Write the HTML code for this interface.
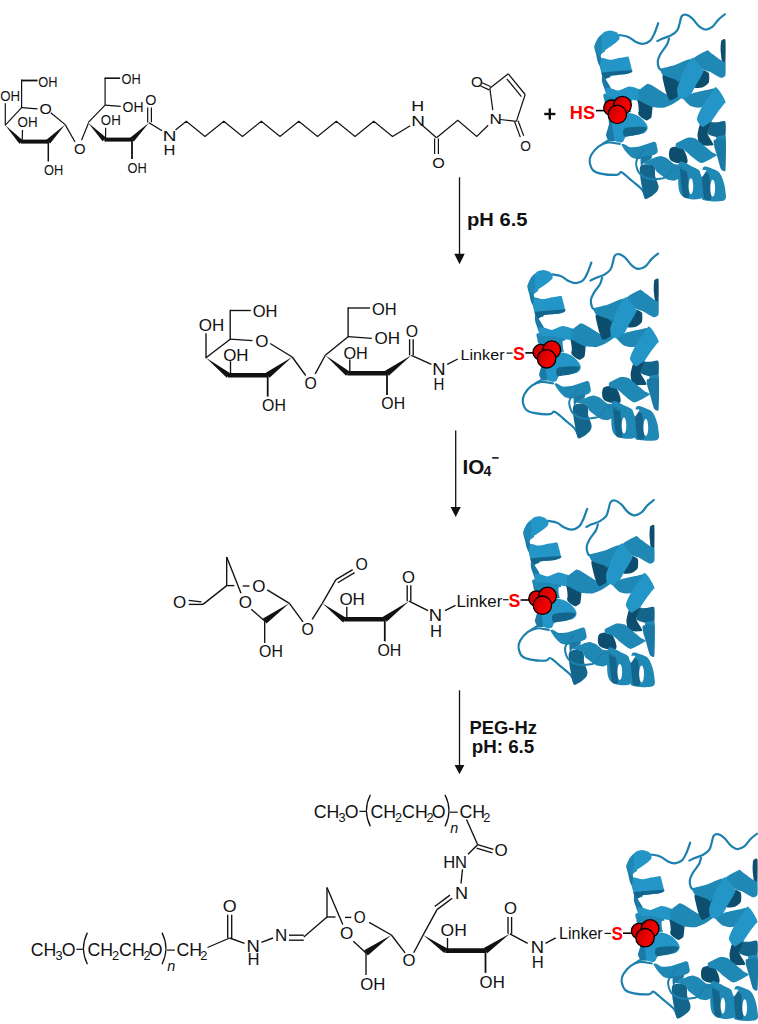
<!DOCTYPE html>
<html><head><meta charset="utf-8"><style>
html,body{margin:0;padding:0;background:#fff;}
svg{display:block;}
text{font-family:"Liberation Sans",sans-serif;}
</style></head><body>
<svg width="758" height="1024" viewBox="0 0 758 1024">
<defs>
<linearGradient id="rg" x1="0" y1="0.3" x2="1" y2="0.7"><stop offset="0" stop-color="#c00000"/><stop offset="0.6" stop-color="#f00000"/><stop offset="1" stop-color="#ff0000"/></linearGradient>
<g id="prot">
<path d="M619.0,35.0 C620.5,35.3 625.4,35.8 628.1,36.9 C630.9,38.0 633.0,40.6 635.5,41.7 C638.0,42.9 640.4,44.0 642.9,43.8 C645.4,43.6 648.4,42.4 650.3,40.6 C652.2,38.8 653.2,36.1 654.5,33.2 C655.8,30.3 657.6,24.9 658.2,23.2" fill="none" stroke="#1d80ad" stroke-width="2.2" stroke-linecap="round" stroke-linejoin="round"/>
<path d="M657.4,41.1 C658.3,40.7 660.4,39.5 662.7,38.5 C665.0,37.5 668.7,36.7 671.1,35.3 C673.5,33.9 675.9,32.3 677.4,30.1 C678.9,27.9 679.3,24.3 680.0,22.0 C680.7,19.7 680.7,17.5 681.7,16.3 C682.7,15.1 684.1,14.3 685.9,14.7 C687.6,15.0 690.1,16.5 692.2,18.4 C694.3,20.2 696.4,23.9 698.5,25.8 C700.6,27.7 702.6,29.3 704.9,29.5 C707.2,29.7 710.0,28.6 712.3,26.9 C714.6,25.2 716.5,21.6 718.6,19.5 C720.7,17.4 723.9,15.1 724.9,14.2" fill="none" stroke="#1d80ad" stroke-width="2.2" stroke-linecap="round" stroke-linejoin="round"/>
<path d="M669.0,38.5 C668.6,39.5 668.3,42.3 666.9,44.8 C665.5,47.3 662.1,51.0 660.6,53.7 C659.1,56.4 658.1,58.4 657.8,60.8 C657.5,63.2 658.3,66.4 659.0,68.0 C659.7,69.6 661.7,69.9 662.2,70.3" fill="none" stroke="#1d80ad" stroke-width="2.2" stroke-linecap="round" stroke-linejoin="round"/>
<path d="M619.8,144.0 C617.8,143.8 611.4,142.1 607.9,142.5 C604.4,142.9 601.5,144.2 598.7,146.3 C595.9,148.4 592.8,152.2 591.3,154.8 C589.8,157.5 589.4,159.6 589.7,162.2 C590.1,164.8 591.4,168.7 593.4,170.6 C595.4,172.5 598.0,173.1 601.9,173.8 C605.8,174.5 613.5,175.1 616.7,174.8 C619.9,174.5 619.5,172.2 620.9,172.2 C622.3,172.2 623.2,173.3 625.1,174.8 C627.0,176.3 629.7,178.7 632.5,181.2 C635.3,183.7 639.8,186.8 642.0,189.6 C644.2,192.4 645.2,196.6 645.8,198.0" fill="none" stroke="#1d80ad" stroke-width="2.2" stroke-linecap="round" stroke-linejoin="round"/>
<path d="M613.0,136.5 C612.3,137.1 610.4,138.9 608.7,140.1 C607.0,141.3 604.0,142.9 603.0,143.5" fill="none" stroke="#1d80ad" stroke-width="2.0" stroke-linecap="round" stroke-linejoin="round"/>
<path d="M594.7,45.6 C593.2,46.4 595.8,52.3 596.3,55.1 C596.8,57.9 597.2,60.1 597.9,62.2 C598.6,64.3 599.6,65.7 600.3,67.7 C601.0,69.7 601.6,72.0 601.9,74.1 C602.2,76.2 601.7,78.6 601.9,80.4 C602.1,82.2 602.4,82.9 603.1,85.0 C603.8,87.1 605.2,90.9 606.1,93.0 C607.0,95.1 608.8,96.2 608.5,97.7 C608.2,99.2 604.2,99.3 604.5,101.7 C604.8,104.1 608.8,108.5 610.0,112.0 C611.2,115.5 610.9,119.7 611.9,122.7 C612.9,125.7 615.7,127.4 615.8,129.8 C615.9,132.2 613.9,135.2 612.7,136.9 C611.5,138.6 608.3,139.4 608.7,140.1 C609.1,140.8 612.5,141.4 615.0,141.0 C617.5,140.6 621.9,141.2 623.7,137.7 C625.5,134.2 627.0,126.3 626.0,120.0 C625.0,113.7 620.5,103.8 618.0,100.0 C615.5,96.2 612.0,98.9 610.8,96.9 C609.6,94.9 611.6,91.2 610.8,88.2 C610.0,85.2 605.8,80.9 605.8,78.8 C605.8,76.7 611.3,79.1 610.6,75.7 C609.9,72.3 603.1,61.8 601.5,58.2 C599.9,54.6 600.5,55.6 601.1,54.3 C601.7,53.0 606.1,51.8 605.0,50.3 C603.9,48.8 596.2,44.8 594.7,45.6Z" fill="#1a7aa5"/>
<path d="M594.7,45.6 C594.8,44.5 597.1,39.6 597.9,38.5 C598.7,37.4 603.1,32.8 604.2,32.1 C605.3,31.4 609.6,30.5 610.6,30.5 C611.6,30.5 615.4,31.7 616.1,32.1 C616.8,32.5 619.0,34.7 619.3,35.3 C619.6,35.9 619.6,38.6 619.3,39.2 C619.0,39.8 616.8,41.8 616.1,42.4 C615.4,43.0 611.5,45.7 610.6,46.4 C609.7,47.1 605.8,49.6 605.0,50.3 C604.2,51.0 601.5,53.8 601.1,54.3 C600.7,54.8 600.6,56.9 600.3,56.7 C600.0,56.5 597.5,52.9 597.0,52.0 C596.5,51.1 594.6,46.7 594.7,45.6Z" fill="#2395c6"/>
<path d="M594.7,45.6 C594.8,44.5 597.3,39.4 597.9,38.5 C598.5,37.6 601.2,34.4 601.5,35.0 C601.8,35.6 602.1,44.2 602.0,46.0 C601.9,47.8 600.7,56.2 600.3,56.7 C599.9,57.2 597.5,52.9 597.0,52.0 C596.5,51.1 594.6,46.7 594.7,45.6Z" fill="#1f88b5"/>
<path d="M601.5,58.2 C602.3,57.7 608.4,59.8 609.8,59.8 C611.1,59.8 616.2,58.5 617.7,58.2 C619.2,57.9 626.3,56.8 627.2,56.7 C628.1,56.6 628.4,56.4 628.8,57.5 C629.2,58.6 631.8,68.8 632.0,70.1 C632.2,71.3 631.7,72.2 631.2,72.5 C630.7,72.8 627.5,73.9 626.4,74.1 C625.3,74.3 619.0,74.8 617.7,74.9 C616.4,75.0 611.6,75.4 610.6,75.7 C609.6,76.0 606.5,78.9 605.8,78.8 C605.1,78.7 602.5,76.1 602.0,75.0 C601.5,73.9 600.0,67.4 600.0,66.0 C600.0,64.6 600.7,58.7 601.5,58.2Z" fill="#2395c6"/>
<path d="M603.0,72.5 C605.4,72.0 629.1,70.2 631.5,70.2 C633.9,70.2 631.6,72.2 631.2,72.5 C630.8,72.8 627.5,73.9 626.4,74.1 C625.3,74.3 619.0,74.8 617.7,74.9 C616.4,75.0 611.6,75.4 610.6,75.7 C609.6,76.0 606.5,78.8 605.8,78.8 C605.1,78.8 602.7,76.5 602.5,76.0 C602.3,75.5 600.6,73.0 603.0,72.5Z" fill="#13658c"/>
<path d="M637.7,97.0 C638.5,96.7 645.3,100.4 646.5,101.0 C647.7,101.6 652.1,102.7 652.5,104.0 C652.9,105.3 651.9,115.8 651.4,117.2 C650.9,118.6 647.2,120.6 646.1,120.4 C645.0,120.2 639.4,116.4 638.7,115.1 C638.0,113.8 637.6,106.1 637.5,104.6 C637.4,103.1 637.0,97.3 637.7,97.0Z" fill="#0d4d6d"/>
<path d="M637.7,89.0 C637.9,88.1 639.1,89.7 640.0,89.3 C640.9,88.9 646.6,83.9 647.9,83.8 C649.2,83.7 654.3,86.8 655.8,87.7 C657.3,88.6 664.6,93.4 666.1,94.1 C667.6,94.8 672.2,96.3 673.2,96.5 C674.2,96.7 677.3,96.4 678.0,96.5 C678.7,96.6 681.6,97.6 681.2,98.2 C680.8,98.8 674.7,102.9 673.2,103.7 C671.7,104.5 665.5,107.4 663.7,107.7 C661.9,108.0 653.9,107.5 651.9,106.9 C649.9,106.3 641.2,101.6 640.0,101.0 C638.8,100.4 637.9,101.1 637.7,100.1 C637.5,99.1 637.5,89.9 637.7,89.0Z" fill="#1f88b5"/>
<path d="M604.0,94.0 C606.1,93.3 628.8,94.5 631.0,96.0 C633.2,97.5 632.6,110.7 631.0,112.0 C629.4,113.3 614.1,112.7 612.0,112.0 C609.9,111.3 606.7,105.5 606.0,104.0 C605.3,102.5 601.9,94.7 604.0,94.0Z" fill="#1f88b5"/>
<path d="M606.0,88.0 C606.4,87.4 609.7,88.0 610.8,88.2 C611.9,88.4 617.2,90.7 618.7,90.6 C620.2,90.5 627.4,86.7 629.0,86.6 C630.6,86.5 637.0,87.9 637.7,89.0 C638.5,90.1 638.6,99.2 638.0,100.1 C637.4,101.0 632.0,99.6 630.6,99.3 C629.2,99.0 622.8,97.1 621.1,96.9 C619.5,96.7 612.1,97.1 610.8,96.9 C609.5,96.7 606.4,95.7 606.0,95.0 C605.6,94.3 605.6,88.6 606.0,88.0Z" fill="#2395c6"/>
<path d="M611.7,123.2 C612.6,120.9 614.2,118.6 616.0,117.0 C617.8,115.4 619.5,114.1 622.2,113.5 C624.9,112.9 628.8,112.8 632.0,113.5 C635.2,114.2 638.6,115.8 641.2,118.0 C643.8,120.2 646.9,124.1 647.5,126.5 C648.1,128.9 646.9,131.1 645.0,132.5 C643.1,133.9 639.1,134.3 636.0,135.0 C632.9,135.7 628.7,135.3 626.4,136.5 C624.1,137.7 624.3,141.6 622.2,142.2 C620.1,142.8 615.8,142.0 613.8,140.1 C611.8,138.2 610.9,133.8 610.5,131.0 C610.1,128.2 610.8,125.5 611.7,123.2Z" fill="#2395c6"/>
<path d="M624.0,129.0 C625.7,127.5 630.2,127.2 634.0,127.0 C637.8,126.8 645.3,126.4 646.5,127.5 C647.7,128.6 643.9,132.1 641.2,133.5 C638.5,134.9 633.0,135.6 630.1,136.0 C627.2,136.4 625.0,137.2 624.0,136.0 C623.0,134.8 622.3,130.5 624.0,129.0Z" fill="#13658c"/>
<path d="M608.0,112.0 C608.3,111.0 612.7,111.0 613.0,112.0 C613.3,113.0 611.9,121.8 612.0,124.0 C612.1,126.2 614.2,137.6 614.0,139.0 C613.8,140.4 609.7,141.3 609.0,141.0 C608.3,140.7 606.0,136.4 606.0,135.0 C606.0,133.6 608.8,125.9 609.0,124.0 C609.2,122.1 607.7,113.0 608.0,112.0Z" fill="#1a7aa5"/>
<path d="M621.4,144.8 C621.2,144.1 623.0,143.8 623.7,144.0 C624.4,144.2 628.8,147.0 630.1,147.2 C631.4,147.4 637.6,146.9 639.6,146.4 C641.6,145.9 652.4,142.0 653.8,141.7 C655.2,141.4 655.9,142.4 656.2,143.2 C656.5,144.0 657.9,150.3 657.8,151.2 C657.7,152.1 656.5,153.8 655.4,154.3 C654.3,154.8 646.6,157.1 645.1,157.5 C643.6,157.9 639.1,159.1 638.0,159.1 C636.9,159.1 632.7,158.1 631.7,157.5 C630.7,156.9 627.0,153.1 626.1,152.0 C625.2,150.9 621.6,145.5 621.4,144.8Z" fill="#1f88b5"/>
<path d="M641.0,157.0 C641.9,156.1 651.2,155.3 652.0,155.5 C652.8,155.7 651.3,158.6 650.6,159.2 C649.9,159.8 644.3,162.6 643.5,163.2 C642.7,163.8 641.2,166.5 641.0,166.0 C640.8,165.5 640.1,157.9 641.0,157.0Z" fill="#1a7aa5"/>
<path d="M641.1,165.6 C643.3,163.8 651.3,163.8 653.7,165.6 C656.1,167.4 654.5,173.3 655.3,176.7 C656.1,180.1 658.4,183.6 658.5,186.2 C658.6,188.8 658.2,190.4 656.1,192.5 C654.0,194.6 648.0,199.2 645.8,198.8 C643.6,198.4 643.6,193.8 642.7,190.1 C641.8,186.4 640.6,180.8 640.3,176.7 C640.0,172.6 638.9,167.4 641.1,165.6Z" fill="#13658c"/>
<path d="M643.5,163.2 C643.2,162.7 649.2,159.8 650.6,159.2 C652.0,158.6 658.7,156.2 660.1,156.1 C661.5,156.0 666.0,157.8 667.2,158.5 C668.4,159.2 672.8,163.5 674.3,164.0 C675.8,164.5 684.1,164.6 685.4,164.8 C686.7,165.0 689.6,165.4 690.0,166.0 C690.4,166.6 690.7,171.0 690.0,172.0 C689.3,173.0 682.8,176.8 681.5,177.5 C680.2,178.2 675.4,180.4 674.3,180.6 C673.2,180.8 668.9,180.1 668.0,179.8 C667.1,179.5 664.2,177.4 663.2,176.7 C662.2,176.0 656.9,172.0 656.1,171.1 C655.3,170.2 654.8,166.3 653.7,165.6 C652.7,164.9 643.8,163.7 643.5,163.2Z" fill="#1f88b5"/>
<path d="M663.0,75.1 C664.4,74.6 679.7,75.8 681.0,77.0 C682.3,78.2 679.2,87.7 679.0,89.3 C678.8,90.9 678.8,95.6 678.0,96.5 C677.2,97.4 671.0,100.7 670.0,100.4 C669.0,100.1 666.6,94.0 666.1,92.5 C665.6,91.0 664.0,84.5 663.7,83.0 C663.4,81.5 661.6,75.6 663.0,75.1Z" fill="#0d4d6d"/>
<path d="M659.5,68.4 C659.3,67.9 659.3,69.0 660.6,68.7 C661.9,68.4 673.1,65.6 675.6,64.8 C678.1,64.0 690.0,58.4 690.7,59.2 C691.4,60.1 685.1,73.1 684.0,75.0 C682.9,76.9 678.7,81.6 678.0,82.0 C677.3,82.4 676.9,80.4 675.6,79.8 C674.4,79.2 664.3,76.0 663.0,75.1 C661.7,74.1 659.7,68.9 659.5,68.4Z" fill="#1f88b5"/>
<path d="M721.2,40.9 C721.6,40.1 725.0,37.9 725.4,39.8 C725.8,41.7 725.7,61.8 725.4,63.5 C725.1,65.2 722.2,61.6 721.8,60.5 C721.4,59.4 720.6,51.4 720.6,49.8 C720.6,48.2 720.8,41.7 721.2,40.9Z" fill="#0d4d6d"/>
<path d="M693.9,58.2 C694.2,56.6 705.7,50.9 707.0,50.4 C708.3,49.9 708.9,51.4 710.0,52.2 C711.1,53.0 719.3,59.1 720.6,60.0 C721.9,60.9 725.0,61.6 725.4,62.9 C725.8,64.2 725.8,74.2 725.4,75.4 C725.0,76.6 721.9,78.1 720.6,77.8 C719.3,77.5 711.5,72.5 710.0,71.8 C708.5,71.1 704.1,70.5 702.8,69.4 C701.5,68.3 693.5,59.8 693.9,58.2Z" fill="#1f88b5"/>
<path d="M700.0,70.0 C701.2,68.8 708.1,72.0 708.8,73.0 C709.5,74.0 709.3,81.3 708.8,82.5 C708.3,83.7 704.0,86.9 702.8,87.3 C701.6,87.7 694.2,88.7 694.0,87.3 C693.8,85.9 698.8,71.2 700.0,70.0Z" fill="#0d4d6d"/>
<path d="M690.7,59.2 C691.6,58.1 692.8,57.2 693.9,58.2 C695.0,59.2 703.2,68.9 703.4,71.2 C703.5,73.5 697.0,83.1 695.7,85.5 C694.4,87.9 688.7,99.3 687.5,100.4 C686.3,101.5 682.0,98.5 681.2,98.2 C680.4,97.9 678.3,97.3 678.0,96.5 C677.7,95.7 676.8,90.5 677.2,88.5 C677.6,86.5 681.9,74.4 683.0,72.0 C684.1,69.6 689.8,60.4 690.7,59.2Z" fill="#2395c6"/>
<path d="M684.3,99.7 C684.5,98.6 690.3,94.2 692.7,93.3 C695.1,92.4 711.6,89.1 713.5,88.6 C715.4,88.1 714.9,86.2 715.9,87.4 C716.9,88.6 726.7,101.1 725.4,102.8 C724.1,104.5 702.7,107.3 699.8,107.6 C696.9,107.9 692.0,106.8 690.7,106.1 C689.4,105.4 684.1,100.8 684.3,99.7Z" fill="#1f88b5"/>
<path d="M715.9,87.4 C717.9,87.0 725.8,99.9 725.4,102.8 C725.0,105.7 713.6,119.7 711.7,121.8 C709.8,123.9 704.0,128.0 702.8,127.8 C701.6,127.6 697.0,121.1 696.9,119.4 C696.8,117.7 700.0,110.3 701.6,107.6 C703.2,104.9 713.9,87.8 715.9,87.4Z" fill="#2395c6"/>
<path d="M699.8,125.0 C700.3,124.3 702.0,127.3 703.0,127.0 C704.0,126.7 711.3,121.2 711.7,121.8 C712.1,122.4 707.5,131.8 707.6,133.7 C707.8,135.6 714.1,144.1 713.5,145.0 C712.9,145.9 701.1,145.8 699.8,145.0 C698.5,144.2 697.5,136.7 697.5,135.0 C697.5,133.3 699.3,125.7 699.8,125.0Z" fill="#0d4d6d"/>
<path d="M711.7,121.8 C712.7,120.7 718.3,120.0 719.4,120.0 C720.5,120.0 724.9,120.5 725.4,121.8 C725.9,123.1 726.0,134.2 725.4,135.5 C724.8,136.8 719.8,137.5 718.3,137.3 C716.8,137.2 708.1,135.0 707.6,133.7 C707.1,132.4 710.7,122.9 711.7,121.8Z" fill="#13658c"/>
<path d="M716.5,137.0 C717.2,136.1 724.7,134.8 725.4,135.5 C726.1,136.2 726.1,145.1 725.4,146.0 C724.7,146.9 717.2,146.8 716.5,146.0 C715.8,145.2 715.8,137.9 716.5,137.0Z" fill="#1f88b5"/>
<path d="M669.6,149.7 C670.4,147.3 673.5,146.6 675.9,146.6 C678.3,146.6 681.9,146.9 683.8,149.7 C685.6,152.5 689.1,161.3 687.0,163.2 C684.9,165.0 674.1,163.1 671.2,160.8 C668.3,158.6 668.8,152.1 669.6,149.7Z" fill="#0d4d6d"/>
<path d="M676.0,143.5 C676.9,142.6 685.9,138.1 687.5,137.7 C689.1,137.3 694.4,138.1 695.4,138.5 C696.4,138.9 698.4,140.9 699.8,142.0 C701.2,143.1 710.3,150.8 711.7,151.9 C713.1,153.0 717.7,154.3 716.9,155.2 C716.1,156.1 703.8,162.9 701.8,163.1 C699.8,163.3 694.7,158.9 693.2,157.8 C691.7,156.7 685.4,150.7 684.0,149.9 C682.6,149.1 677.7,148.5 677.0,148.0 C676.3,147.5 675.1,144.4 676.0,143.5Z" fill="#1f88b5"/>
<path d="M714.0,140.0 C714.9,139.4 724.5,137.5 725.5,140.0 C726.5,142.5 725.9,167.9 725.5,170.3 C725.1,172.7 721.6,170.3 720.9,169.0 C720.2,167.7 717.4,157.1 716.9,155.2 C716.4,153.3 714.5,147.9 714.3,146.6 C714.1,145.3 713.1,140.6 714.0,140.0Z" fill="#1a7aa5"/>
<path d="M680.0,161.8 C682.3,160.4 688.6,164.9 691.9,166.4 C695.2,167.9 697.7,168.6 699.8,171.0 C701.9,173.4 703.5,177.5 704.4,180.9 C705.3,184.3 705.4,188.7 705.0,191.5 C704.6,194.3 703.8,196.7 701.8,198.0 C699.8,199.3 696.3,199.6 693.2,199.4 C690.1,199.2 685.7,198.3 683.3,196.7 C680.9,195.1 679.8,193.6 679.0,190.0 C678.2,186.4 678.1,179.7 678.3,175.0 C678.5,170.3 677.7,163.2 680.0,161.8Z" fill="#1f88b5"/>
<path d="M703.1,167.7 C704.8,165.0 710.2,168.1 713.0,169.0 C715.8,169.9 717.8,170.7 719.6,173.0 C721.4,175.3 722.9,179.7 723.9,182.9 C724.9,186.1 725.2,189.3 725.5,192.0 C725.8,194.7 726.5,197.4 725.5,199.0 C724.5,200.6 722.8,201.0 719.6,201.3 C716.4,201.6 709.4,201.2 706.4,200.7 C703.4,200.1 702.4,200.6 701.8,198.0 C701.2,195.4 702.8,190.1 703.0,185.0 C703.2,179.9 701.4,170.4 703.1,167.7Z" fill="#1f88b5"/>
<path d="M680.0,168.0 C680.3,166.0 686.2,169.6 687.0,172.0 C687.8,174.4 689.3,195.0 689.0,197.0 C688.7,199.0 683.8,198.4 683.0,196.0 C682.2,193.6 679.7,170.0 680.0,168.0Z" fill="#13658c"/>
<path d="M702.0,172.0 C702.4,170.1 708.2,172.8 709.0,175.0 C709.8,177.2 711.4,197.1 711.0,199.0 C710.6,200.9 704.8,200.2 704.0,198.0 C703.2,195.8 701.6,173.9 702.0,172.0Z" fill="#13658c"/>
<ellipse cx="690.9" cy="186.2" rx="2.3" ry="8" fill="#fff"/>
<ellipse cx="712.7" cy="188.2" rx="2.4" ry="8.5" fill="#fff"/>
<path d="M699.8,170.5 C700.2,169.9 706.2,169.8 706.4,170.3 C706.6,170.8 702.5,177.0 702.0,177.0 C701.5,177.0 699.4,171.1 699.8,170.5Z" fill="#ffffff"/>
<path d="M711.7,121.8 C711.7,120.4 724.2,103.0 725.4,102.8 C726.5,102.6 726.6,118.4 725.5,120.0 C724.4,121.6 711.7,123.2 711.7,121.8Z" fill="#ffffff"/>
<path d="M629.8,101.7 C630.4,100.9 636.8,100.6 637.5,101.5 C638.2,102.4 639.1,111.2 638.5,112.0 C637.9,112.8 631.2,111.9 630.5,111.0 C629.8,110.1 629.2,102.5 629.8,101.7Z" fill="#ffffff"/>
<path d="M644.2,149.7 C643.0,151.3 638.4,156.5 637.1,159.2 C635.8,161.8 635.8,163.1 636.3,165.6 C636.8,168.1 638.0,172.1 640.3,174.3 C642.5,176.5 646.0,178.3 649.8,179.0 C653.6,179.7 660.2,178.8 663.2,178.2 C666.2,177.5 666.4,176.7 668.0,175.1 C669.6,173.5 670.9,170.0 672.7,168.7 C674.6,167.4 677.0,166.9 679.1,167.2 C681.2,167.5 684.4,169.8 685.4,170.3" fill="none" stroke="#1d80ad" stroke-width="2.0" stroke-linecap="round" stroke-linejoin="round"/>
</g>
</defs>
<rect width="758" height="1024" fill="#fff"/>
<use href="#prot" x="0" y="0"/><use href="#prot" x="-66.9" y="239.4"/><use href="#prot" x="-71.1" y="485.8"/><use href="#prot" x="32.0" y="819.5"/>
<line x1="21.6" y1="80.5" x2="37.5" y2="80.5" stroke="#111" stroke-width="1.8"/>
<line x1="21.6" y1="108" x2="21.6" y2="79.6" stroke="#111" stroke-width="1.2"/>
<line x1="21.6" y1="107.6" x2="37.5" y2="108.8" stroke="#111" stroke-width="1.2"/>
<line x1="50.8" y1="112.7" x2="65.2" y2="124.6" stroke="#111" stroke-width="1.2"/>
<line x1="21.6" y1="107.6" x2="5.3" y2="125.2" stroke="#111" stroke-width="1.2"/>
<line x1="5.3" y1="125.6" x2="5.3" y2="103.3" stroke="#111" stroke-width="1.2"/>
<polygon points="5.30,125.20 19.38,143.81 23.02,140.39" fill="#111"/>
<line x1="22.2" y1="141" x2="22.5" y2="130" stroke="#111" stroke-width="1.2"/>
<polygon points="20.70,143.60 48.30,143.60 48.30,139.60 20.70,139.60" fill="#111"/>
<polygon points="65.20,124.60 46.46,139.77 50.14,143.43" fill="#111"/>
<line x1="48.3" y1="141.6" x2="48.3" y2="161.5" stroke="#111" stroke-width="1.5"/>
<line x1="65.2" y1="124.6" x2="75" y2="142" stroke="#111" stroke-width="1.2"/>
<line x1="81.5" y1="140.2" x2="88.4" y2="123.3" stroke="#111" stroke-width="1.2"/>
<line x1="88.1" y1="122.7" x2="105.1" y2="105.1" stroke="#111" stroke-width="1.2"/>
<line x1="105.1" y1="105.1" x2="105.1" y2="78.2" stroke="#111" stroke-width="1.2"/>
<line x1="104.5" y1="78.2" x2="120.1" y2="78.2" stroke="#111" stroke-width="1.6"/>
<line x1="105.1" y1="105.1" x2="120.7" y2="106.4" stroke="#111" stroke-width="1.2"/>
<polygon points="88.10,122.70 102.60,141.34 106.20,137.86" fill="#111"/>
<line x1="105.5" y1="139" x2="105.7" y2="127.7" stroke="#111" stroke-width="1.2"/>
<polygon points="104.40,141.60 132.00,141.60 132.00,137.60 104.40,137.60" fill="#111"/>
<line x1="132" y1="139.6" x2="132" y2="159" stroke="#111" stroke-width="1.8"/>
<polygon points="149.00,122.70 130.17,137.76 133.83,141.44" fill="#111"/>
<line x1="147.7" y1="122.5" x2="147.7" y2="107.6" stroke="#111" stroke-width="1.2"/>
<line x1="151.4" y1="122.2" x2="151.4" y2="107.6" stroke="#111" stroke-width="1.2"/>
<line x1="149" y1="122.7" x2="162" y2="130.8" stroke="#111" stroke-width="1.2"/>
<text transform="translate(38.29,86.6) scale(0.883,1)" font-size="14.53" fill="#111">OH</text>
<text transform="translate(39.45,114.2) scale(1.089,1)" font-size="14.53" fill="#111">O</text>
<text transform="translate(0.17,100.5) scale(0.913,1)" font-size="14.53" fill="#111">OH</text>
<text transform="translate(17.56,127.4) scale(0.923,1)" font-size="14.53" fill="#111">OH</text>
<text transform="translate(44.09,175.0) scale(0.883,1)" font-size="14.53" fill="#111">OH</text>
<text transform="translate(74.09,154.2) scale(1.028,1)" font-size="14.53" fill="#111">O</text>
<text transform="translate(121.59,84.2) scale(0.883,1)" font-size="14.53" fill="#111">OH</text>
<text transform="translate(122.54,112.4) scale(0.963,1)" font-size="14.53" fill="#111">OH</text>
<text transform="translate(100.87,124.8) scale(0.913,1)" font-size="14.53" fill="#111">OH</text>
<text transform="translate(127.59,172.8) scale(0.883,1)" font-size="14.53" fill="#111">OH</text>
<text transform="translate(145.32,104.7) scale(0.988,1)" font-size="14.53" fill="#111">O</text>
<text transform="translate(162.64,141.2) scale(1.306,1)" font-size="14.53" fill="#111">N</text>
<text transform="translate(163.45,154.8) scale(1.133,1)" font-size="14.53" fill="#111">H</text>
<polyline points="175.5,130 186.3,121.3 205.0,136.4 223.8,121.3 242.5,136.4 261.3,121.3 280.0,136.4 298.8,121.3 317.5,136.4 336.3,121.3 355.0,136.4 373.8,121.3 392.5,136.4 410.2,125.7" fill="none" stroke="#111" stroke-width="1.2"/>
<text transform="translate(411.24,126.2) scale(1.306,1)" font-size="14.53" fill="#111">N</text>
<text transform="translate(411.33,111.2) scale(1.232,1)" font-size="14.53" fill="#111">H</text>
<line x1="422.8" y1="125.7" x2="436.5" y2="137.7" stroke="#111" stroke-width="1.2"/>
<line x1="434.6" y1="138.5" x2="434.6" y2="154" stroke="#111" stroke-width="1.2"/>
<line x1="438.4" y1="138.5" x2="438.4" y2="154" stroke="#111" stroke-width="1.2"/>
<text transform="translate(432.24,167.5) scale(1.109,1)" font-size="14.53" fill="#111">O</text>
<polyline points="436.5,137.7 457.8,120.2 476.7,136.5 488.2,125.2" fill="none" stroke="#111" stroke-width="1.2"/>
<text transform="translate(489.39,124.3) scale(1.182,1)" font-size="14.53" fill="#111">N</text>
<line x1="492.8" y1="110.1" x2="489.8" y2="88.2" stroke="#111" stroke-width="1.2"/>
<line x1="490.53463497425025" y1="86.55673755759818" x2="482.03463497425025" y2="82.75673755759819" stroke="#111" stroke-width="1.2"/>
<line x1="489.06536502574977" y1="89.84326244240182" x2="480.56536502574977" y2="86.04326244240183" stroke="#111" stroke-width="1.2"/>
<text transform="translate(470.88,86.8) scale(1.048,1)" font-size="14.53" fill="#111">O</text>
<line x1="489.8" y1="88.2" x2="508.3" y2="73.8" stroke="#111" stroke-width="1.2"/>
<line x1="508.3" y1="73.8" x2="525.2" y2="94.5" stroke="#111" stroke-width="1.2"/>
<line x1="506.8" y1="78.8" x2="521.4" y2="96.6" stroke="#111" stroke-width="1.2"/>
<line x1="525.2" y1="94.5" x2="516.4" y2="121.4" stroke="#111" stroke-width="1.2"/>
<line x1="516.4" y1="121.4" x2="500.1" y2="119.5" stroke="#111" stroke-width="1.2"/>
<line x1="514.7123220300501" y1="122.02589381667015" x2="520.3123220300502" y2="137.12589381667016" stroke="#111" stroke-width="1.2"/>
<line x1="518.0876779699498" y1="120.77410618332986" x2="523.6876779699498" y2="135.87410618332984" stroke="#111" stroke-width="1.2"/>
<text transform="translate(520.35,150.6) scale(0.947,1)" font-size="14.53" fill="#111">O</text>
<polygon points="544.20,115.20 555.40,115.20 555.40,112.80 544.20,112.80" fill="#111"/>
<polygon points="548.60,108.40 548.60,119.60 551.00,119.60 551.00,108.40" fill="#111"/>
<text transform="translate(569.79,118.5) scale(0.991,1)" font-size="18.31" font-weight="bold" fill="#f00">HS</text>
<line x1="595.9" y1="110.6" x2="604" y2="110.6" stroke="#000" stroke-width="1.6"/>
<line x1="459.5" y1="177.3" x2="459.5" y2="254.8" stroke="#111" stroke-width="1.3"/>
<polygon points="454.30,253.80 464.70,253.80 459.50,264.30" fill="#111"/>
<text transform="translate(467.07,226) scale(1.127,1)" font-size="17.88" font-weight="bold" fill="#111">pH 6.5</text>
<line x1="230.2" y1="310.5" x2="250.8" y2="310.5" stroke="#111" stroke-width="1.35"/>
<line x1="230.2" y1="339.8" x2="230.2" y2="309.8" stroke="#111" stroke-width="1.35"/>
<line x1="230.2" y1="339.2" x2="252.5" y2="340.6" stroke="#111" stroke-width="1.35"/>
<line x1="270.2" y1="343.5" x2="292.2" y2="357" stroke="#111" stroke-width="1.35"/>
<line x1="230.2" y1="339.2" x2="206" y2="357.8" stroke="#111" stroke-width="1.35"/>
<line x1="206" y1="358.2" x2="206" y2="333.3" stroke="#111" stroke-width="1.35"/>
<polygon points="206.00,357.80 226.77,377.70 230.23,373.30" fill="#111"/>
<line x1="230.5" y1="375" x2="230.5" y2="361.2" stroke="#111" stroke-width="1.35"/>
<polygon points="228.00,377.50 267.70,377.50 267.70,372.90 228.00,372.90" fill="#111"/>
<polygon points="292.20,357.00 265.85,372.71 269.55,377.69" fill="#111"/>
<line x1="267.7" y1="375.2" x2="267.7" y2="396.6" stroke="#111" stroke-width="1.8"/>
<line x1="292.2" y1="357" x2="305.7" y2="375.5" stroke="#111" stroke-width="1.35"/>
<line x1="315.2" y1="373.9" x2="325.3" y2="355.3" stroke="#111" stroke-width="1.35"/>
<line x1="325.3" y1="355.3" x2="348.1" y2="336.7" stroke="#111" stroke-width="1.35"/>
<line x1="348.1" y1="337.3" x2="348.1" y2="307.3" stroke="#111" stroke-width="1.35"/>
<line x1="348.1" y1="308" x2="370" y2="308" stroke="#111" stroke-width="1.35"/>
<line x1="348.1" y1="336.7" x2="371.8" y2="338.4" stroke="#111" stroke-width="1.35"/>
<polygon points="325.30,355.30 346.03,375.77 349.57,371.43" fill="#111"/>
<line x1="349.8" y1="373" x2="349.8" y2="359.5" stroke="#111" stroke-width="1.35"/>
<polygon points="347.30,375.60 387.00,375.60 387.00,371.00 347.30,371.00" fill="#111"/>
<line x1="387" y1="373.3" x2="387" y2="395" stroke="#111" stroke-width="1.8"/>
<polygon points="411.40,355.30 385.16,370.81 388.84,375.79" fill="#111"/>
<line x1="413.2" y1="355.3" x2="413.2" y2="339.2" stroke="#111" stroke-width="1.35"/>
<line x1="409.59999999999997" y1="355.3" x2="409.59999999999997" y2="339.2" stroke="#111" stroke-width="1.35"/>
<line x1="411.4" y1="355.3" x2="431.4" y2="364.3" stroke="#111" stroke-width="1.35"/>
<line x1="447.2" y1="364.3" x2="457.8" y2="359" stroke="#111" stroke-width="1.35"/>
<text transform="translate(252.72,316.6) scale(1.013,1)" font-size="16.28" fill="#111">OH</text>
<text transform="translate(255.20,346.6) scale(1.044,1)" font-size="16.28" fill="#111">O</text>
<text transform="translate(198.70,330.6) scale(1.044,1)" font-size="16.28" fill="#111">OH</text>
<text transform="translate(223.20,361.0) scale(1.039,1)" font-size="16.28" fill="#111">OH</text>
<text transform="translate(262.05,410.8) scale(0.977,1)" font-size="16.28" fill="#111">OH</text>
<text transform="translate(304.45,388.8) scale(0.972,1)" font-size="16.28" fill="#111">O</text>
<text transform="translate(372.02,314.6) scale(1.013,1)" font-size="16.28" fill="#111">OH</text>
<text transform="translate(374.49,344.2) scale(1.048,1)" font-size="16.28" fill="#111">OH</text>
<text x="343.43" y="358.6" font-size="16.28" fill="#111">OH</text>
<text transform="translate(381.35,409.2) scale(0.972,1)" font-size="16.28" fill="#111">OH</text>
<text transform="translate(405.85,336.6) scale(0.972,1)" font-size="16.28" fill="#111">O</text>
<text transform="translate(432.19,374.8) scale(1.133,1)" font-size="16.28" fill="#111">N</text>
<text transform="translate(433.57,389.6) scale(0.924,1)" font-size="16.28" fill="#111">H</text>
<text transform="translate(460.57,360.0) scale(1.048,1)" font-size="15.41" fill="#111">Linker</text>
<line x1="506.5" y1="353.1" x2="512.6" y2="353.1" stroke="#111" stroke-width="1.2"/>
<text transform="translate(512.89,360.3) scale(0.951,1)" font-size="18.60" font-weight="bold" fill="#f00">S</text>
<line x1="525.3" y1="352.9" x2="534" y2="352.9" stroke="#000" stroke-width="1.6"/>
<line x1="455.7" y1="430.6" x2="455.7" y2="508" stroke="#111" stroke-width="1.3"/>
<polygon points="450.60,507.00 460.80,507.00 455.70,517.00" fill="#111"/>
<text transform="translate(462.42,473.9) scale(0.989,1)" font-size="20.93" font-weight="bold" fill="#111">IO</text>
<text transform="translate(483.39,476.0) scale(1.017,1)" font-size="13.95" font-weight="bold" fill="#111">4</text>
<line x1="492.2" y1="457.9" x2="498.6" y2="457.9" stroke="#111" stroke-width="1.6"/>
<text transform="translate(172.90,608.3) scale(1.044,1)" font-size="16.28" fill="#111">O</text>
<line x1="188.7" y1="600.3" x2="201.4" y2="601.8" stroke="#111" stroke-width="1.35"/>
<line x1="188.7" y1="604.4" x2="203" y2="604.4" stroke="#111" stroke-width="1.35"/>
<line x1="203" y1="604.4" x2="226.7" y2="585.6" stroke="#111" stroke-width="1.35"/>
<line x1="226.7" y1="586" x2="226.7" y2="556.9" stroke="#111" stroke-width="1.35"/>
<line x1="226.7" y1="556.9" x2="241" y2="593.2" stroke="#111" stroke-width="1.35"/>
<line x1="226.7" y1="585.6" x2="234.3" y2="585.6" stroke="#111" stroke-width="1.35"/>
<line x1="242.7" y1="586" x2="249.5" y2="586" stroke="#111" stroke-width="1.35"/>
<text transform="translate(252.30,592.3) scale(1.044,1)" font-size="16.28" fill="#111">O</text>
<text transform="translate(238.80,608.3) scale(1.044,1)" font-size="16.28" fill="#111">O</text>
<line x1="267.2" y1="589.8" x2="289.4" y2="603.3" stroke="#111" stroke-width="1.35"/>
<line x1="251.2" y1="609.2" x2="264.7" y2="621" stroke="#111" stroke-width="1.35"/>
<polygon points="289.40,603.30 262.89,618.48 266.51,623.52" fill="#111"/>
<line x1="264.7" y1="621" x2="264.7" y2="643" stroke="#111" stroke-width="1.35"/>
<text transform="translate(259.05,657.3) scale(0.977,1)" font-size="16.28" fill="#111">OH</text>
<line x1="289.4" y1="603.3" x2="303" y2="621.9" stroke="#111" stroke-width="1.35"/>
<text transform="translate(301.45,634.5) scale(0.972,1)" font-size="16.28" fill="#111">O</text>
<line x1="312.2" y1="619.4" x2="322.3" y2="603.3" stroke="#111" stroke-width="1.35"/>
<line x1="322.3" y1="603.3" x2="335.9" y2="579.7" stroke="#111" stroke-width="1.35"/>
<line x1="335.9" y1="579.7" x2="352.7" y2="569.6" stroke="#111" stroke-width="1.35"/>
<line x1="337.754884774764" y1="582.7853528926768" x2="354.554884774764" y2="572.6853528926767" stroke="#111" stroke-width="1.35"/>
<text transform="translate(355.45,569.6) scale(0.972,1)" font-size="16.28" fill="#111">O</text>
<polygon points="322.30,603.30 343.12,622.44 346.48,617.96" fill="#111"/>
<line x1="346.8" y1="619" x2="346.8" y2="606.7" stroke="#111" stroke-width="1.35"/>
<text transform="translate(339.40,605.0) scale(1.044,1)" font-size="16.28" fill="#111">OH</text>
<polygon points="344.30,621.50 384.80,621.50 384.80,616.90 344.30,616.90" fill="#111"/>
<line x1="384.8" y1="619.2" x2="384.8" y2="641.3" stroke="#111" stroke-width="1.8"/>
<text transform="translate(377.45,656.4) scale(0.977,1)" font-size="16.28" fill="#111">OH</text>
<polygon points="409.00,601.20 382.95,616.71 386.65,621.69" fill="#111"/>
<line x1="410.8" y1="601.2" x2="410.8" y2="585.3" stroke="#111" stroke-width="1.35"/>
<line x1="407.2" y1="601.2" x2="407.2" y2="585.3" stroke="#111" stroke-width="1.35"/>
<text transform="translate(402.11,583.1) scale(1.026,1)" font-size="16.28" fill="#111">O</text>
<line x1="409" y1="601.2" x2="428" y2="610.7" stroke="#111" stroke-width="1.35"/>
<text transform="translate(428.69,621.0) scale(1.133,1)" font-size="16.28" fill="#111">N</text>
<text transform="translate(430.03,636.9) scale(1.023,1)" font-size="16.28" fill="#111">H</text>
<line x1="445" y1="610.7" x2="455.5" y2="605.4" stroke="#111" stroke-width="1.35"/>
<text transform="translate(456.42,607.4) scale(1.053,1)" font-size="15.99" fill="#111">Linker</text>
<line x1="503" y1="599.7" x2="508.6" y2="599.7" stroke="#111" stroke-width="1.2"/>
<text transform="translate(508.39,606.8) scale(0.966,1)" font-size="18.31" font-weight="bold" fill="#f00">S</text>
<line x1="520.6" y1="600" x2="529.5" y2="600" stroke="#000" stroke-width="1.6"/>
<line x1="459.5" y1="690.3" x2="459.5" y2="765.9" stroke="#111" stroke-width="1.3"/>
<polygon points="454.60,764.90 464.40,764.90 459.50,774.30" fill="#111"/>
<text transform="translate(469.57,734.0) scale(0.988,1)" font-size="18.60" font-weight="bold" fill="#111">PEG-Hz</text>
<text transform="translate(471.66,753.0) scale(1.010,1)" font-size="18.60" font-weight="bold" fill="#111">pH: 6.5</text>
<text x="313.70" y="817.7" font-size="17.73" fill="#111">CH</text>
<text x="338.41" y="821.6" font-size="12.79" fill="#111">3</text>
<text x="344.76" y="817.9" font-size="17.73" fill="#111">O</text>
<line x1="359.4" y1="811.4" x2="366.5" y2="811.4" stroke="#111" stroke-width="1.2"/>
<path d="M370.4,794.7 Q362.5,810.5 370.4,826.4" fill="none" stroke="#111" stroke-width="1.25"/>
<text x="370.50" y="817.7" font-size="17.73" fill="#111">CH</text>
<text x="394.96" y="821.6" font-size="12.79" fill="#111">2</text>
<text x="402.10" y="817.7" font-size="17.73" fill="#111">CH</text>
<text x="426.56" y="821.6" font-size="12.79" fill="#111">2</text>
<text x="431.76" y="817.9" font-size="17.73" fill="#111">O</text>
<path d="M445.0,794.7 Q452.9,810.5 445.0,826.4" fill="none" stroke="#111" stroke-width="1.25"/>
<text x="450.14" y="832.9" font-size="14.39" font-style="italic" fill="#111">n</text>
<line x1="449.9" y1="812.2" x2="457.8" y2="812.2" stroke="#111" stroke-width="1.2"/>
<text x="459.50" y="817.7" font-size="17.73" fill="#111">CH</text>
<text x="483.36" y="821.6" font-size="12.79" fill="#111">2</text>
<text x="30.70" y="955.6" font-size="17.73" fill="#111">CH</text>
<text x="55.41" y="959.5" font-size="12.79" fill="#111">3</text>
<text x="61.76" y="955.8" font-size="17.73" fill="#111">O</text>
<line x1="76.39999999999998" y1="949.3" x2="83.5" y2="949.3" stroke="#111" stroke-width="1.2"/>
<path d="M87.39999999999998,932.6 Q79.5,948.4 87.39999999999998,964.3" fill="none" stroke="#111" stroke-width="1.25"/>
<text x="87.50" y="955.6" font-size="17.73" fill="#111">CH</text>
<text x="111.96" y="959.5" font-size="12.79" fill="#111">2</text>
<text x="119.10" y="955.6" font-size="17.73" fill="#111">CH</text>
<text x="143.56" y="959.5" font-size="12.79" fill="#111">2</text>
<text x="148.76" y="955.8" font-size="17.73" fill="#111">O</text>
<path d="M162.0,932.6 Q169.89999999999998,948.4 162.0,964.3" fill="none" stroke="#111" stroke-width="1.25"/>
<text x="167.14" y="970.8" font-size="14.39" font-style="italic" fill="#111">n</text>
<line x1="166.89999999999998" y1="950.1" x2="174.8" y2="950.1" stroke="#111" stroke-width="1.2"/>
<text x="176.50" y="955.6" font-size="17.73" fill="#111">CH</text>
<text x="200.36" y="959.5" font-size="12.79" fill="#111">2</text>
<line x1="466.5" y1="819.5" x2="477.6" y2="844.6" stroke="#111" stroke-width="1.35"/>
<line x1="477.6" y1="844.6" x2="493.4" y2="849.4" stroke="#111" stroke-width="1.35"/>
<line x1="476.5535533416499" y1="848.0445535837359" x2="492.35355334164984" y2="852.8445535837359" stroke="#111" stroke-width="1.35"/>
<text transform="translate(494.40,856.4) scale(1.008,1)" font-size="16.86" fill="#111">O</text>
<line x1="477.6" y1="844.7" x2="468" y2="854.2" stroke="#111" stroke-width="1.35"/>
<text transform="translate(443.14,867.6) scale(0.982,1)" font-size="16.86" fill="#111">HN</text>
<line x1="462.5" y1="869.3" x2="461" y2="883.5" stroke="#111" stroke-width="1.35"/>
<text transform="translate(454.92,898.5) scale(1.072,1)" font-size="16.86" fill="#111">N</text>
<line x1="452.2" y1="898.2" x2="437" y2="909.6" stroke="#111" stroke-width="1.35"/>
<line x1="449.92" y1="895.1600000000001" x2="434.72" y2="906.5600000000001" stroke="#111" stroke-width="1.35"/>
<line x1="437" y1="909.6" x2="423.2" y2="934.9" stroke="#111" stroke-width="1.35"/>
<line x1="207.5" y1="947.5" x2="229.7" y2="938" stroke="#111" stroke-width="1.35"/>
<line x1="231.7" y1="938.0" x2="231.7" y2="914.8" stroke="#111" stroke-width="1.35"/>
<line x1="227.7" y1="938.0" x2="227.7" y2="914.8" stroke="#111" stroke-width="1.35"/>
<text transform="translate(222.75,911.6) scale(1.060,1)" font-size="16.86" fill="#111">O</text>
<line x1="229.7" y1="938" x2="244.5" y2="943.3" stroke="#111" stroke-width="1.35"/>
<text transform="translate(246.39,951.7) scale(1.094,1)" font-size="16.86" fill="#111">N</text>
<text transform="translate(247.53,965.4) scale(0.987,1)" font-size="16.86" fill="#111">H</text>
<line x1="261.4" y1="942.3" x2="273" y2="938" stroke="#111" stroke-width="1.35"/>
<text transform="translate(274.90,941.2) scale(1.009,1)" font-size="16.86" fill="#111">N</text>
<line x1="289" y1="935.2" x2="303.8" y2="935.2" stroke="#111" stroke-width="1.35"/>
<line x1="289" y1="940.2" x2="303.8" y2="940.2" stroke="#111" stroke-width="1.35"/>
<line x1="303.8" y1="937" x2="327" y2="917" stroke="#111" stroke-width="1.35"/>
<line x1="327" y1="917.4" x2="327" y2="887.4" stroke="#111" stroke-width="1.35"/>
<line x1="327" y1="887.4" x2="342.8" y2="924.4" stroke="#111" stroke-width="1.35"/>
<line x1="327" y1="917" x2="335.5" y2="917" stroke="#111" stroke-width="1.35"/>
<line x1="345" y1="917.4" x2="351.3" y2="917.4" stroke="#111" stroke-width="1.35"/>
<text transform="translate(353.87,923.2) scale(0.912,1)" font-size="16.86" fill="#111">O</text>
<text transform="translate(340.09,939.0) scale(1.017,1)" font-size="16.86" fill="#111">O</text>
<line x1="369.2" y1="922.3" x2="391.4" y2="935" stroke="#111" stroke-width="1.35"/>
<line x1="353.4" y1="941.3" x2="366" y2="952.9" stroke="#111" stroke-width="1.35"/>
<polygon points="391.40,935.00 364.21,950.37 367.79,955.43" fill="#111"/>
<line x1="366" y1="952.9" x2="366" y2="975" stroke="#111" stroke-width="1.35"/>
<text transform="translate(360.21,989.6) scale(0.995,1)" font-size="16.86" fill="#111">OH</text>
<line x1="391.4" y1="935" x2="405.1" y2="952.9" stroke="#111" stroke-width="1.35"/>
<text transform="translate(402.61,966.3) scale(0.991,1)" font-size="16.86" fill="#111">O</text>
<line x1="413.7" y1="952.8" x2="423.2" y2="934.9" stroke="#111" stroke-width="1.35"/>
<polygon points="423.20,934.90 444.20,952.99 447.40,948.41" fill="#111"/>
<line x1="447.5" y1="950" x2="447.5" y2="938" stroke="#111" stroke-width="1.35"/>
<text transform="translate(440.57,935.8) scale(1.038,1)" font-size="16.86" fill="#111">OH</text>
<polygon points="445.40,952.90 485.50,952.90 485.50,948.30 445.40,948.30" fill="#111"/>
<line x1="485.5" y1="950.6" x2="485.5" y2="972.9" stroke="#111" stroke-width="1.8"/>
<text transform="translate(479.61,987.5) scale(0.995,1)" font-size="16.86" fill="#111">OH</text>
<polygon points="509.80,933.80 483.74,948.05 487.26,953.15" fill="#111"/>
<line x1="511.6" y1="933.8" x2="511.6" y2="917.0" stroke="#111" stroke-width="1.35"/>
<line x1="508.0" y1="933.8" x2="508.0" y2="917.0" stroke="#111" stroke-width="1.35"/>
<text transform="translate(503.91,913.6) scale(0.991,1)" font-size="16.86" fill="#111">O</text>
<line x1="509.8" y1="933.8" x2="527.7" y2="943.3" stroke="#111" stroke-width="1.35"/>
<text transform="translate(530.69,952.6) scale(1.094,1)" font-size="16.86" fill="#111">N</text>
<text transform="translate(531.83,967.5) scale(0.987,1)" font-size="16.86" fill="#111">H</text>
<line x1="545.5" y1="943.4" x2="555.7" y2="937.9" stroke="#111" stroke-width="1.35"/>
<text transform="translate(558.98,938.6) scale(0.953,1)" font-size="16.86" fill="#111">Linker</text>
<line x1="604.6" y1="933.4" x2="611" y2="933.4" stroke="#111" stroke-width="1.2"/>
<text transform="translate(611.51,939.6) scale(0.960,1)" font-size="17.73" font-weight="bold" fill="#f00">S</text>
<line x1="623" y1="933.2" x2="632.4" y2="933.2" stroke="#000" stroke-width="1.6"/>
<circle cx="611.50" cy="107.80" r="7.80" fill="url(#rg)" stroke="#000" stroke-width="1.3"/>
<circle cx="622.40" cy="105.30" r="8.90" fill="url(#rg)" stroke="#000" stroke-width="1.3"/>
<circle cx="617.30" cy="114.40" r="9.20" fill="url(#rg)" stroke="#000" stroke-width="1.3"/><circle cx="540.80" cy="352.20" r="7.80" fill="url(#rg)" stroke="#000" stroke-width="1.3"/>
<circle cx="551.70" cy="349.70" r="8.90" fill="url(#rg)" stroke="#000" stroke-width="1.3"/>
<circle cx="546.60" cy="358.80" r="9.20" fill="url(#rg)" stroke="#000" stroke-width="1.3"/><circle cx="536.60" cy="598.60" r="7.80" fill="url(#rg)" stroke="#000" stroke-width="1.3"/>
<circle cx="547.50" cy="596.10" r="8.90" fill="url(#rg)" stroke="#000" stroke-width="1.3"/>
<circle cx="542.40" cy="605.20" r="9.20" fill="url(#rg)" stroke="#000" stroke-width="1.3"/><circle cx="639.20" cy="931.10" r="7.80" fill="url(#rg)" stroke="#000" stroke-width="1.3"/>
<circle cx="650.10" cy="928.60" r="8.90" fill="url(#rg)" stroke="#000" stroke-width="1.3"/>
<circle cx="645.00" cy="937.70" r="9.20" fill="url(#rg)" stroke="#000" stroke-width="1.3"/>
</svg>
</body></html>
